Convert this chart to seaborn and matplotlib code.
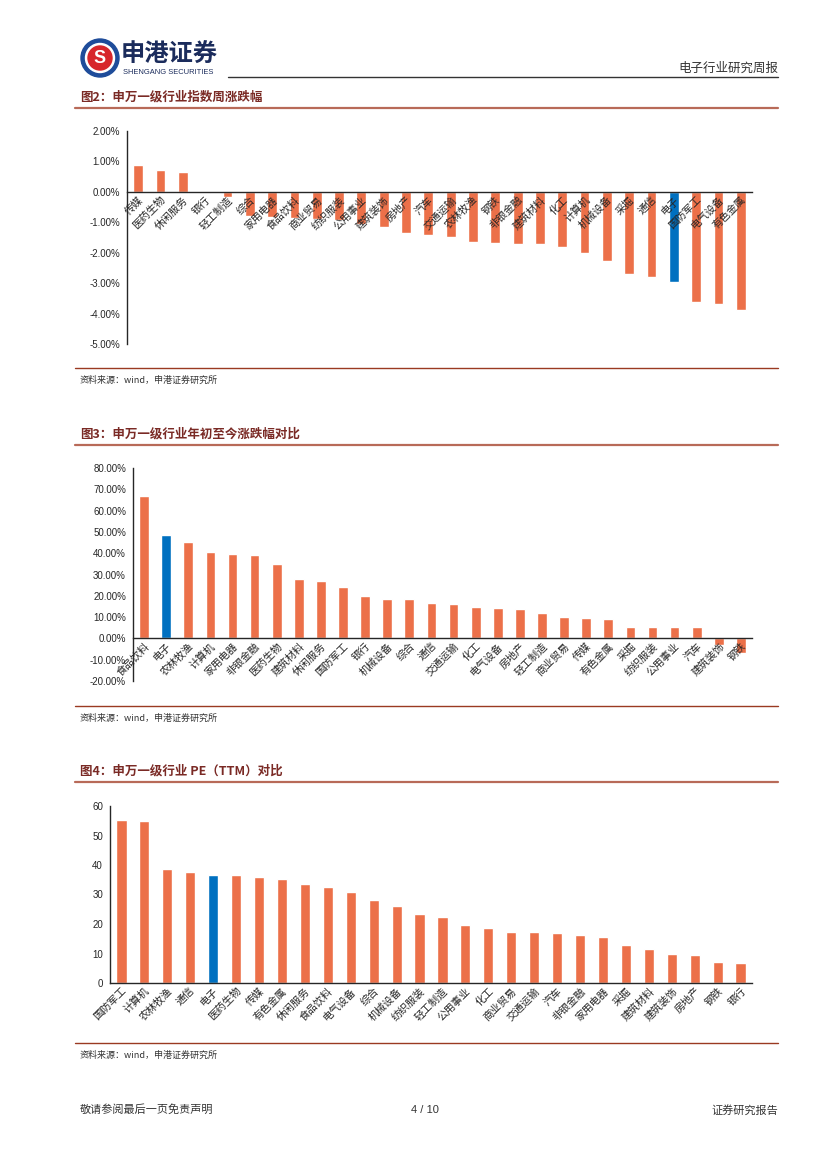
import numpy as np
import pandas as pd
import seaborn as sns
import matplotlib.pyplot as plt
from matplotlib.patches import Circle
from matplotlib.ticker import FuncFormatter

# 图2 周涨跌幅 (%)
week_cats = ['传媒', '医药生物', '休闲服务', '银行', '轻工制造', '综合', '家用电器', '食品饮料',
             '商业贸易', '纺织服装', '公用事业', '建筑装饰', '房地产', '汽车', '交通运输', '农林牧渔',
             '钢铁', '非银金融', '建筑材料', '化工', '计算机', '机械设备', '采掘', '通信', '电子',
             '国防军工', '电气设备', '有色金属']
week_vals = [0.87, 0.73, 0.64, -0.04, -0.16, -0.78, -0.81, -0.85, -0.88, -0.91, -1.05, -1.14,
             -1.34, -1.41, -1.48, -1.66, -1.69, -1.73, -1.73, -1.80, -2.01, -2.27, -2.70, -2.79,
             -2.96, -3.62, -3.69, -3.89]

# 图3 年初至今涨跌幅 (%)
ytd_cats = ['食品饮料', '电子', '农林牧渔', '计算机', '家用电器', '非银金融', '医药生物', '建筑材料',
            '休闲服务', '国防军工', '银行', '机械设备', '综合', '通信', '交通运输', '化工', '电气设备',
            '房地产', '轻工制造', '商业贸易', '传媒', '有色金属', '采掘', '纺织服装', '公用事业', '汽车',
            '建筑装饰', '钢铁']
ytd_vals = [66.9, 48.6, 45.1, 40.6, 39.7, 39.2, 34.9, 28.0, 27.1, 24.3, 19.8, 18.4, 18.4, 16.8,
            16.3, 14.8, 14.5, 13.7, 11.8, 10.0, 9.5, 8.9, 5.4, 5.4, 5.4, 5.4, -3.3, -6.7]

# 图4 PE(TTM)
pe_cats = ['国防军工', '计算机', '农林牧渔', '通信', '电子', '医药生物', '传媒', '有色金属', '休闲服务',
           '食品饮料', '电气设备', '综合', '机械设备', '纺织服装', '轻工制造', '公用事业', '化工',
           '商业贸易', '交通运输', '汽车', '非银金融', '家用电器', '采掘', '建筑材料', '建筑装饰',
           '房地产', '钢铁', '银行']
pe_vals = [55.3, 54.9, 38.7, 37.6, 36.6, 36.6, 36.1, 35.2, 33.7, 32.7, 30.9, 28.1, 26.0, 23.4,
           22.4, 19.6, 18.8, 17.4, 17.4, 17.0, 16.4, 15.7, 12.8, 11.4, 9.7, 9.4, 7.2, 6.9]

ORANGE = '#EC7049'
BLUE = '#0070C0'
TITLE_C = '#7A2A25'

sns.set_style('white')
plt.rcParams['font.family'] = ['Liberation Sans', 'Noto Sans CJK SC', 'DejaVu Sans']
plt.rcParams['axes.linewidth'] = 1.0

W, H = 827, 1170
fig = plt.figure(figsize=(W / 100, H / 100), dpi=100)

# page overlay in pixel coordinates
page = fig.add_axes([0, 0, 1, 1])
page.set_xlim(0, W)
page.set_ylim(H, 0)
page.axis('off')


def rect(l, t, r, b):
    return [l / W, 1 - b / H, (r - l) / W, (b - t) / H]


def bar_chart(cats, vals, box, ylim, yticks, fmt, zero_axis):
    ax = fig.add_axes(rect(*box))
    df = pd.DataFrame({'cat': cats, 'val': vals})
    colors = {c: (BLUE if c == '电子' else ORANGE) for c in cats}
    sns.barplot(data=df, x='cat', y='val', hue='cat', palette=colors, legend=False,
                width=0.44, saturation=1, ax=ax)
    ax.set_axisbelow(False)
    ax.set_xlim(-0.5, len(cats) - 0.5)
    ax.set_ylim(*ylim)
    ax.set_yticks(yticks)
    ax.yaxis.set_major_formatter(FuncFormatter(fmt))
    ax.set_xlabel('')
    ax.set_ylabel('')
    for s in ['top', 'right']:
        ax.spines[s].set_visible(False)
    if zero_axis:
        ax.spines['bottom'].set_position(('data', 0))
    ax.set_xticks(np.arange(-0.5, len(cats), 1), minor=True)
    ax.tick_params(axis='x', which='major', length=0, pad=2)
    ax.tick_params(axis='x', which='minor', direction='in', length=3, width=1)
    ax.tick_params(axis='y', direction='out', length=3, width=1, labelsize=7, pad=2)
    for lab in ax.get_xticklabels():
        lab.set_rotation(45)
        lab.set_ha('right')
        lab.set_rotation_mode('anchor')
        lab.set_fontsize(7.5)
        lab.set_family(['Noto Sans CJK SC', 'DejaVu Sans'])
    return ax


bar_chart(week_cats, week_vals, (127, 131, 752, 344), (-5, 2), np.arange(-5, 2.1, 1),
          lambda v, p: f'{v:.2f}%', True)
bar_chart(ytd_cats, ytd_vals, (133, 468, 752, 681), (-20, 80), np.arange(-20, 81, 10),
          lambda v, p: f'{v:.2f}%', True)
bar_chart(pe_cats, pe_vals, (110, 806, 752, 983), (0, 60), np.arange(0, 61, 10),
          lambda v, p: f'{v:.0f}', False)

# header
page.add_patch(Circle((100, 58), 19, color='#1E4C9A'))
page.add_patch(Circle((100, 58), 14.5, color='white'))
page.add_patch(Circle((100, 58), 12, color='#D7262B'))
page.text(100, 58.5, 'S', color='white', fontsize=13, fontweight='bold', ha='center', va='center')
page.text(121, 55, '申港证券', fontsize=17.5, fontweight='bold', color='#1B2C5C',
          family=['Noto Sans CJK SC'], va='center', ha='left')
page.text(123, 72, 'SHENGANG SECURITIES', fontsize=5.4, color='#1B2C5C', va='center', ha='left')
page.plot([228, 778], [77, 77], color='#333333', lw=1)
page.text(778, 68, '电子行业研究周报', fontsize=9, color='#333333', ha='right', va='center',
          family=['Noto Sans CJK SC'])

titles = [(97, '图2：申万一级行业指数周涨跌幅'),
          (434, '图3：申万一级行业年初至今涨跌幅对比'),
          (771, '图4：申万一级行业 PE（TTM）对比')]
for y, t in titles:
    page.text(80, y, t, fontsize=9, fontweight='bold', color=TITLE_C, ha='left', va='center',
              family=['Noto Sans CJK SC', 'DejaVu Sans'])
    page.plot([75, 778], [y + 11, y + 11], color='#B86A58', lw=1.6)

for y in [368, 706, 1043]:
    page.plot([75, 778], [y, y], color='#9A3A22', lw=1)
    page.text(80, y + 12, '资料来源：wind，申港证券研究所', fontsize=6.5, color='#333333',
              style='italic', ha='left', va='center', family=['Noto Sans CJK SC', 'DejaVu Sans'])

# footer
page.text(80, 1110, '敬请参阅最后一页免责声明', fontsize=8, color='#333333', ha='left', va='center',
          family=['Noto Sans CJK SC'])
page.text(425, 1110, '4 / 10', fontsize=8, color='#333333', ha='center', va='center')
page.text(778, 1110, '证券研究报告', fontsize=8, color='#333333', ha='right', va='center',
          family=['Noto Sans CJK SC'])

fig.savefig('out.png', dpi=100)
